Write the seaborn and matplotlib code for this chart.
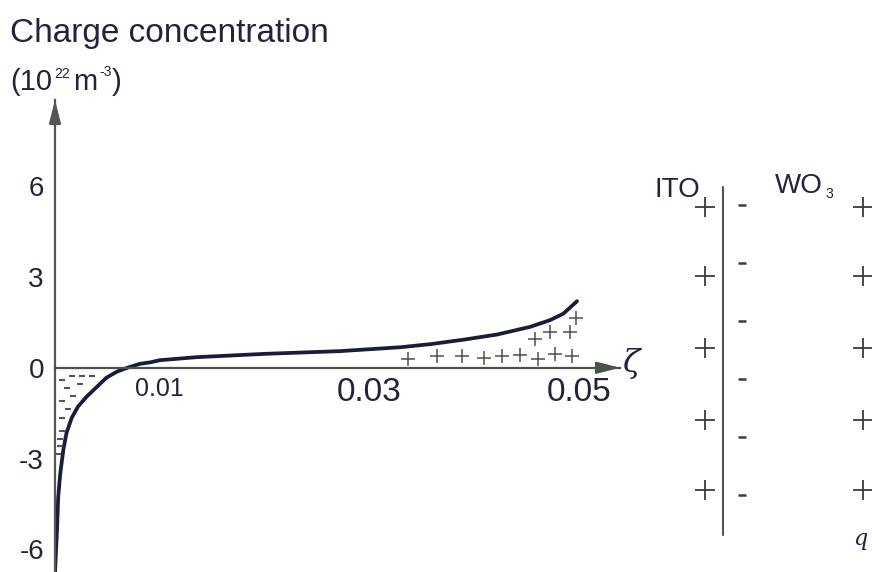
import pandas as pd
import seaborn as sns
import matplotlib.pyplot as plt

# charge concentration curve (10^22 m^-3) vs normalised depth zeta
zeta = [0.0000, 0.0002, 0.0003, 0.0005, 0.0008, 0.0011, 0.0016, 0.0022, 0.0030,
        0.0040, 0.0049, 0.0059, 0.0069, 0.0081, 0.0091, 0.0100, 0.0135, 0.0200,
        0.0272, 0.0330, 0.0358, 0.0390, 0.0422, 0.0453, 0.0472, 0.0485, 0.0498]
conc = [-6.75, -5.3, -4.3, -3.5, -2.7, -2.15, -1.65, -1.28, -0.96,
        -0.63, -0.33, -0.13, 0.0, 0.13, 0.18, 0.25, 0.35, 0.46,
        0.55, 0.68, 0.78, 0.93, 1.10, 1.35, 1.57, 1.79, 2.20]

# "+" marks under the positive part of the curve
holes_zeta = [0.0337, 0.0364, 0.0388, 0.0409, 0.0426, 0.0444, 0.0461, 0.0477,
              0.0493, 0.0458, 0.0472, 0.0491, 0.0497]
holes_conc = [0.30, 0.38, 0.38, 0.33, 0.38, 0.42, 0.30, 0.44,
              0.38, 0.94, 1.18, 1.18, 1.65]

# "-" marks above the negative part of the curve
electrons_zeta = [0.0007, 0.0016, 0.0026, 0.0035, 0.0011, 0.0024, 0.0007,
                  0.0017, 0.0012, 0.0007, 0.0007, 0.0005, 0.0005, 0.0003]
electrons_conc = [-0.40, -0.26, -0.26, -0.26, -0.66, -0.53, -1.09,
                  -0.92, -1.35, -1.65, -2.08, -2.34, -2.57, -2.84]

y_ticks = [6, 3, 0, -3, -6]
x_ticks = [0.01, 0.02, 0.03, 0.04, 0.05]
x_tick_labels = ["0.01", "", "0.03", "", "0.05"]

# schematic of the ITO / WO3 interface (depth measured from the interface)
ito_plus_rows = [0.0, 0.97, 1.99, 3.0, 3.99]
wo3_minus_rows = [-0.03, 0.79, 1.61, 2.42, 3.24, 4.06]
wo3_plus_rows = [0.0, 0.97, 1.99, 3.0, 3.99]
ito_plus_depth = -0.25
wo3_minus_depth = 0.27
wo3_plus_depth = 1.97

ink = "#23233b"
navy = "#1b1b3a"
axis_col = "#4a5446"
mark_col = "#4a5448"

sns.set_style("white")
plt.rcParams["font.family"] = ["Liberation Sans", "DejaVu Sans"]
plt.rcParams["text.color"] = ink

fig = plt.figure(figsize=(8.72, 5.72), dpi=100)
ax = fig.add_axes([55 / 872, 0, 565 / 872, 472 / 572])

curve = pd.DataFrame({"zeta": zeta, "conc": conc})
sns.lineplot(data=curve, x="zeta", y="conc", sort=False, estimator=None,
             color=navy, lw=2.7, ax=ax)
sns.scatterplot(x=holes_zeta, y=holes_conc, marker="+", s=110, linewidth=1.1,
                color=mark_col, ax=ax, zorder=3)
sns.scatterplot(x=electrons_zeta, y=electrons_conc, marker="_", s=14, linewidth=1.5,
                color="#555555", ax=ax, zorder=3)

ax.set_xlim(0, 0.0539)
ax.set_ylim(-6.75, 8.85)
ax.set_xlabel("")
ax.set_ylabel("")
for side in ["top", "right"]:
    ax.spines[side].set_visible(False)
ax.spines["bottom"].set_position(("data", 0))
ax.spines["bottom"].set_color(axis_col)
ax.spines["bottom"].set_linewidth(1.6)
ax.spines["left"].set_color("#555555")
ax.spines["left"].set_linewidth(1.6)

# arrow heads on both axes
ax.annotate("", xy=(0.0539, 0), xytext=(0.0520, 0), annotation_clip=False,
            arrowprops=dict(arrowstyle="-|>,head_length=0.7,head_width=0.18",
                            color=axis_col, lw=1.6, mutation_scale=20,
                            shrinkA=0, shrinkB=0))
ax.annotate("", xy=(0, 8.85), xytext=(0, 8.0), annotation_clip=False,
            arrowprops=dict(arrowstyle="-|>,head_length=0.7,head_width=0.18",
                            color="#555555", lw=1.6, mutation_scale=20,
                            shrinkA=0, shrinkB=0))

ax.set_xticks(x_ticks, x_tick_labels)
ax.tick_params(axis="x", direction="in", length=5, width=1, color="#555555",
               labelcolor=ink, pad=7)
xl = ax.get_xticklabels()
xl[0].set_fontsize(18)
for t in xl[1:]:
    t.set_fontsize(24)
ax.set_yticks(y_ticks, [str(t) for t in y_ticks])
ax.tick_params(axis="y", direction="in", length=5, width=1, color="#555555",
               labelcolor=ink, labelsize=20, pad=8)

ax.annotate("ζ", xy=(0.0539, 0), xytext=(2, 3), textcoords="offset points",
            ha="left", va="center", fontsize=23, family="DejaVu Serif",
            style="italic", color=ink, annotation_clip=False)

# y-axis title, superscripts written as small raised texts
fig.text(10 / 872, 1 - 42 / 572, "Charge concentration", fontsize=24,
         va="baseline", color=ink)
fig.text(10 / 872, 1 - 90 / 572, "(10", fontsize=21, va="baseline", color=ink)
fig.text(54 / 872, 1 - 78 / 572, "22", fontsize=10, va="baseline", color=ink)
fig.text(73 / 872, 1 - 90 / 572, "m", fontsize=21, va="baseline", color=ink)
fig.text(99 / 872, 1 - 76 / 572, "-3", fontsize=10, va="baseline", color=ink)
fig.text(112 / 872, 1 - 90 / 572, ")", fontsize=21, va="baseline", color=ink)

# right-hand schematic
ax2 = fig.add_axes([630 / 872, 0, 242 / 872, 1])
ax2.set_xlim(-1.31, 2.10)
ax2.set_ylim(5.14, -2.915)
ax2.axis("off")
sns.lineplot(x=[0, 0], y=[-0.28, 4.62], sort=False, estimator=None,
             color="#555555", lw=1.5, ax=ax2)
sns.scatterplot(x=[ito_plus_depth] * len(ito_plus_rows), y=ito_plus_rows,
                marker="+", s=200, linewidth=1.3, color="#3c3c3c", ax=ax2)
sns.scatterplot(x=[wo3_minus_depth] * len(wo3_minus_rows), y=wo3_minus_rows,
                marker="_", s=36, linewidth=1.8, color="#3c3c3c", ax=ax2)
sns.scatterplot(x=[wo3_plus_depth] * len(wo3_plus_rows), y=wo3_plus_rows,
                marker="+", s=200, linewidth=1.3, color="#3c3c3c", ax=ax2,
                clip_on=False)
ax2.text(-0.97, -0.14, "ITO", fontsize=20, va="baseline", color=ink)
ax2.text(0.73, -0.2, "WO", fontsize=20, va="baseline", color=ink)
ax2.text(1.45, -0.12, "3", fontsize=10, va="baseline", color=ink)
ax2.text(1.83, 4.76, "q", fontsize=16, family="DejaVu Serif", style="italic",
         va="baseline", color=ink)

fig.savefig("out.png", dpi=100)
